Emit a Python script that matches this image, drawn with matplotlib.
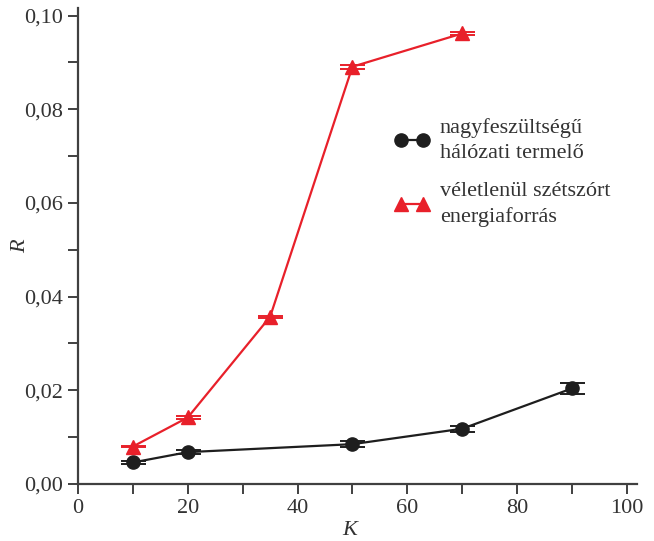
import matplotlib
matplotlib.use("Agg")
import matplotlib.pyplot as plt
from matplotlib.ticker import FuncFormatter, MultipleLocator
from matplotlib.lines import Line2D

# adatok
k_black = [10, 20, 50, 70, 90]
r_black = [0.0046, 0.0068, 0.0085, 0.0118, 0.0204]
err_black = [0.0004, 0.0004, 0.0007, 0.0006, 0.0011]

k_red = [10, 20, 35, 50, 70]
r_red = [0.0080, 0.0142, 0.0357, 0.0891, 0.0962]
err_red = [0.0002, 0.0003, 0.0002, 0.0004, 0.0003]

label_black = "nagyfeszültségű\nhálózati termelő"
label_red = "véletlenül szétszórt\nenergiaforrás"

red = "#e8202a"
dark = "#1e1e1e"
axcol = "#404040"
txtcol = "#333333"

plt.rcParams['font.family'] = ['Liberation Serif', 'DejaVu Serif']

fig = plt.figure(figsize=(6.54, 5.41), dpi=100)
ax = fig.add_axes([0.1193, 0.1054, 0.8543, 0.8795])

ax.errorbar(k_black, r_black, yerr=err_black, color=dark, marker="o", markersize=9.5,
            lw=1.6, capsize=9, elinewidth=1.4, capthick=1.4)
ax.errorbar(k_red, r_red, yerr=err_red, color=red, marker="^", markersize=10.5,
            lw=1.6, capsize=9, elinewidth=1.4, capthick=1.4)

ax.set_xlim(0, 101.8)
ax.set_ylim(0, 0.1016)
ax.xaxis.set_major_locator(MultipleLocator(20))
ax.xaxis.set_minor_locator(MultipleLocator(10))
ax.yaxis.set_major_locator(MultipleLocator(0.02))
ax.yaxis.set_minor_locator(MultipleLocator(0.01))
ax.yaxis.set_major_formatter(FuncFormatter(lambda v, p: ("%.2f" % v).replace(".", ",")))

for s in ["top", "right"]:
    ax.spines[s].set_visible(False)
for s in ["left", "bottom"]:
    ax.spines[s].set_color(axcol)
    ax.spines[s].set_linewidth(1.6)

ax.tick_params(which="both", direction="out", length=7, width=1.4, color=axcol,
               labelsize=16, labelcolor=txtcol, pad=4)

ax.set_xlabel("K", fontstyle="italic", fontsize=16, color=txtcol)
ax.xaxis.set_label_coords(0.487, -0.077)
ax.set_ylabel("R", fontstyle="italic", fontsize=16, color=txtcol)
ax.yaxis.set_label_coords(-0.085, 0.5)

handles = [
    Line2D([0], [0], color=dark, marker="o", markersize=9.5, lw=1.6),
    Line2D([0], [0], color=red, marker="^", markersize=10.5, lw=1.6),
]
leg = ax.legend(handles, [label_black, label_red], loc="upper left",
                bbox_to_anchor=(0.53, 0.81), frameon=False, numpoints=2,
                handlelength=1.6, handletextpad=0.45, labelspacing=0.85,
                fontsize=16)
for t in leg.get_texts():
    t.set_color(txtcol)
    t.set_linespacing(1.4)

fig.savefig("out.png", dpi=100)
